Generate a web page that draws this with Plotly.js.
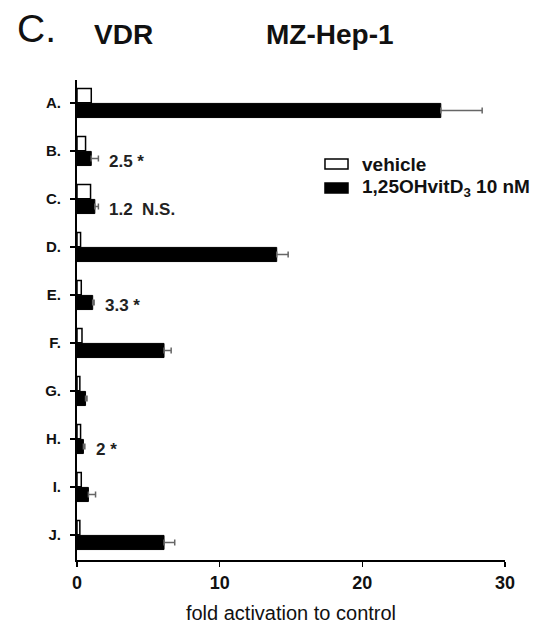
<!DOCTYPE html>
<html><head><meta charset="utf-8">
<script src="https://cdn.plot.ly/plotly-3.0.1.min.js"></script>
<style>body{margin:0;background:#fff}#c{width:542px;height:629px}</style>
</head><body><div id="c"></div>
<script>
var categories = ['A.','B.','C.','D.','E.','F.','G.','H.','I.','J.'];
var vehicle = [1.0, 0.6, 0.95, 0.25, 0.3, 0.35, 0.2, 0.25, 0.3, 0.2];
var treated = [25.5, 1.0, 1.25, 14.0, 1.1, 6.1, 0.6, 0.45, 0.8, 6.1];
var treatedErr = [2.9, 0.5, 0.25, 0.8, 0.1, 0.5, 0.1, 0.1, 0.5, 0.75];
var noteCats = ['B.','C.','E.','H.'];
var noteTexts = ['2.5 *','1.2  N.S.','3.3 *','2 *'];
var xTicks = [0, 10, 20, 30];
var legendNames = ['vehicle', '1,25OHvitD<sub>3</sub> 10 nM'];

var FONT = 'Liberation Sans, Arial, sans-serif';

var traces = [
  {type:'bar', orientation:'h', name:legendNames[0], y:categories, x:vehicle,
   marker:{color:'#fff', line:{color:'#000', width:1.5}}},
  {type:'bar', orientation:'h', name:legendNames[1], y:categories, x:treated,
   marker:{color:'#000', line:{color:'#000', width:1}},
   error_x:{type:'data', array:treatedErr, arrayminus:treatedErr.map(function(){return 0;}), symmetric:false,
            color:'#666', thickness:1.5, width:3}}
];

var annotations = noteCats.map(function(c, i){
  var k = categories.indexOf(c);
  return {x: treated[k] + treatedErr[k], y: c, xref:'x', yref:'y', text: noteTexts[i],
          showarrow:false, xanchor:'left', yanchor:'middle', xshift:9, yshift:-10,
          font:{family:FONT, size:17, color:'#222', weight:'bold'}};
});
annotations.push(
  {text:'C.', xref:'paper', yref:'paper', x:-0.145, y:1.108, xanchor:'left', yanchor:'middle', showarrow:false,
   font:{family:FONT, size:39, color:'#111'}},
  {text:'VDR', xref:'paper', yref:'paper', x:0.035, y:1.094, xanchor:'left', yanchor:'middle', showarrow:false,
   font:{family:FONT, size:28, color:'#111', weight:'bold'}},
  {text:'MZ-Hep-1', xref:'paper', yref:'paper', x:0.437, y:1.094, xanchor:'left', yanchor:'middle', showarrow:false,
   font:{family:FONT, size:28, color:'#111', weight:'bold'}}
);
// legend drawn as key boxes + labels (paper coordinates)
var legY = [0.825, 0.775];
var legFill = ['#fff', '#000'];
var shapes = [];
legY.forEach(function(yc, i){
  shapes.push({type:'rect', xref:'paper', yref:'paper', x0:0.5794, x1:0.6332, y0:yc-0.0104, y1:yc+0.0104,
               fillcolor:legFill[i], line:{color:'#000', width:1.5}});
  annotations.push({text:legendNames[i], xref:'paper', yref:'paper', x:0.661, y:yc, xanchor:'left', yanchor:'middle',
                    showarrow:false, font:{family:FONT, size:19, color:'#111', weight:'bold'}});
});

var layout = {
  width:542, height:629,
  margin:{l:77, r:37, t:80, b:69},
  paper_bgcolor:'#fff', plot_bgcolor:'#fff',
  barmode:'group', bargap:0.38, bargroupgap:0.05,
  showlegend:false,
  xaxis:{range:[0,30], tickvals:xTicks, ticktext:xTicks.map(String), showgrid:false, zeroline:false,
         showline:true, linecolor:'#000', linewidth:2, ticks:'outside', ticklen:5, tickwidth:1.5, tickcolor:'#000',
         tickfont:{family:FONT, size:18, color:'#111', weight:'bold'},
         title:{text:'fold activation to control', font:{family:FONT, size:20, color:'#111'}, standoff:14}},
  yaxis:{type:'category', categoryorder:'array', categoryarray:categories, range:[9.52,-0.48],
         showgrid:false, zeroline:false, showline:true, linecolor:'#000', linewidth:2,
         ticks:'outside', ticklen:5, tickwidth:1.5, tickcolor:'#000', ticklabelstandoff:6,
         tickfont:{family:FONT, size:15, color:'#111', weight:'bold'}},
  annotations: annotations,
  shapes: shapes
};

Plotly.newPlot('c', traces, layout, {displayModeBar:false, staticPlot:true});
</script>
</body></html>
